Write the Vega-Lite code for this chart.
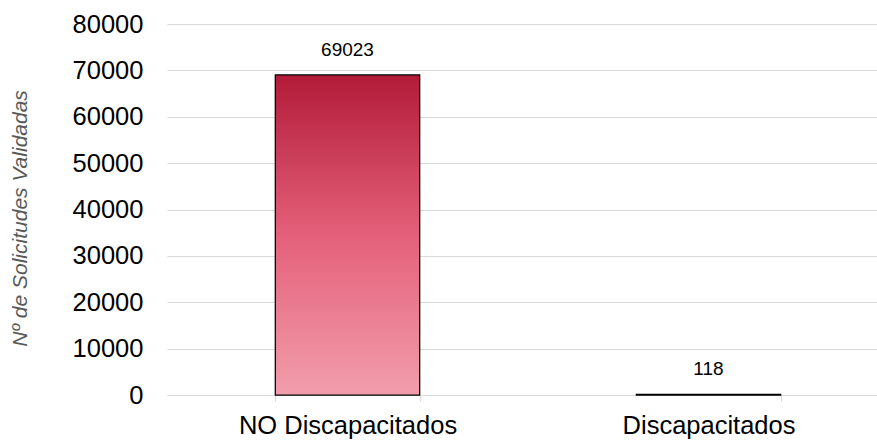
{
  "$schema": "https://vega.github.io/schema/vega-lite/v6.json",
  "width": 722,
  "height": 371,
  "autosize": {"type": "none"},
  "padding": {"left": 167, "top": 24, "right": 0, "bottom": 47},
  "background": "white",
  "config": {"view": {"stroke": null}, "font": "Liberation Sans"},
  "data": {
    "values": [
      {"categoria": "NO Discapacitados", "solicitudes": 69023},
      {"categoria": "Discapacitados", "solicitudes": 118}
    ]
  },
  "encoding": {
    "x": {
      "field": "categoria",
      "type": "nominal",
      "sort": null,
      "scale": {"paddingInner": 0.6, "paddingOuter": 0.3},
      "axis": {
        "title": null,
        "labelAngle": 0,
        "labelFontSize": 25.5,
        "labelColor": "#000000",
        "labelPadding": 12,
        "labelLimit": 500,
        "domainColor": "#d9d9d9",
        "tickColor": "#d9d9d9",
        "tickSize": 6,
        "tickBand": "extent",
        "grid": false
      }
    },
    "y": {
      "field": "solicitudes",
      "type": "quantitative",
      "scale": {"domain": [0, 80000]},
      "axis": {
        "values": [0, 10000, 20000, 30000, 40000, 50000, 60000, 70000, 80000],
        "format": "d",
        "labelFontSize": 25.5,
        "labelColor": "#000000",
        "labelPadding": 24,
        "domain": false,
        "ticks": false,
        "grid": true,
        "gridColor": "#d9d9d9",
        "title": "Nº de Solicitudes Validadas",
        "titleFontSize": 21,
        "titleFontStyle": "italic",
        "titleFontWeight": "normal",
        "titleColor": "#595959",
        "titleAngle": -90,
        "titleAlign": "center",
        "titleBaseline": "middle",
        "titleX": -147,
        "titleY": 194
      }
    }
  },
  "layer": [
    {
      "mark": {
        "type": "bar",
        "stroke": "#000000",
        "strokeWidth": 1.25,
        "fill": {
          "gradient": "linear",
          "x1": 0, "y1": 1, "x2": 0, "y2": 0,
          "stops": [
            {"offset": 0, "color": "#f19dab"},
            {"offset": 0.5, "color": "#e4607a"},
            {"offset": 1, "color": "#b21b38"}
          ]
        }
      }
    },
    {
      "mark": {"type": "text", "baseline": "bottom", "dy": -15, "fontSize": 19, "color": "#000000"},
      "encoding": {"text": {"field": "solicitudes", "type": "quantitative", "format": "d"}}
    }
  ]
}
